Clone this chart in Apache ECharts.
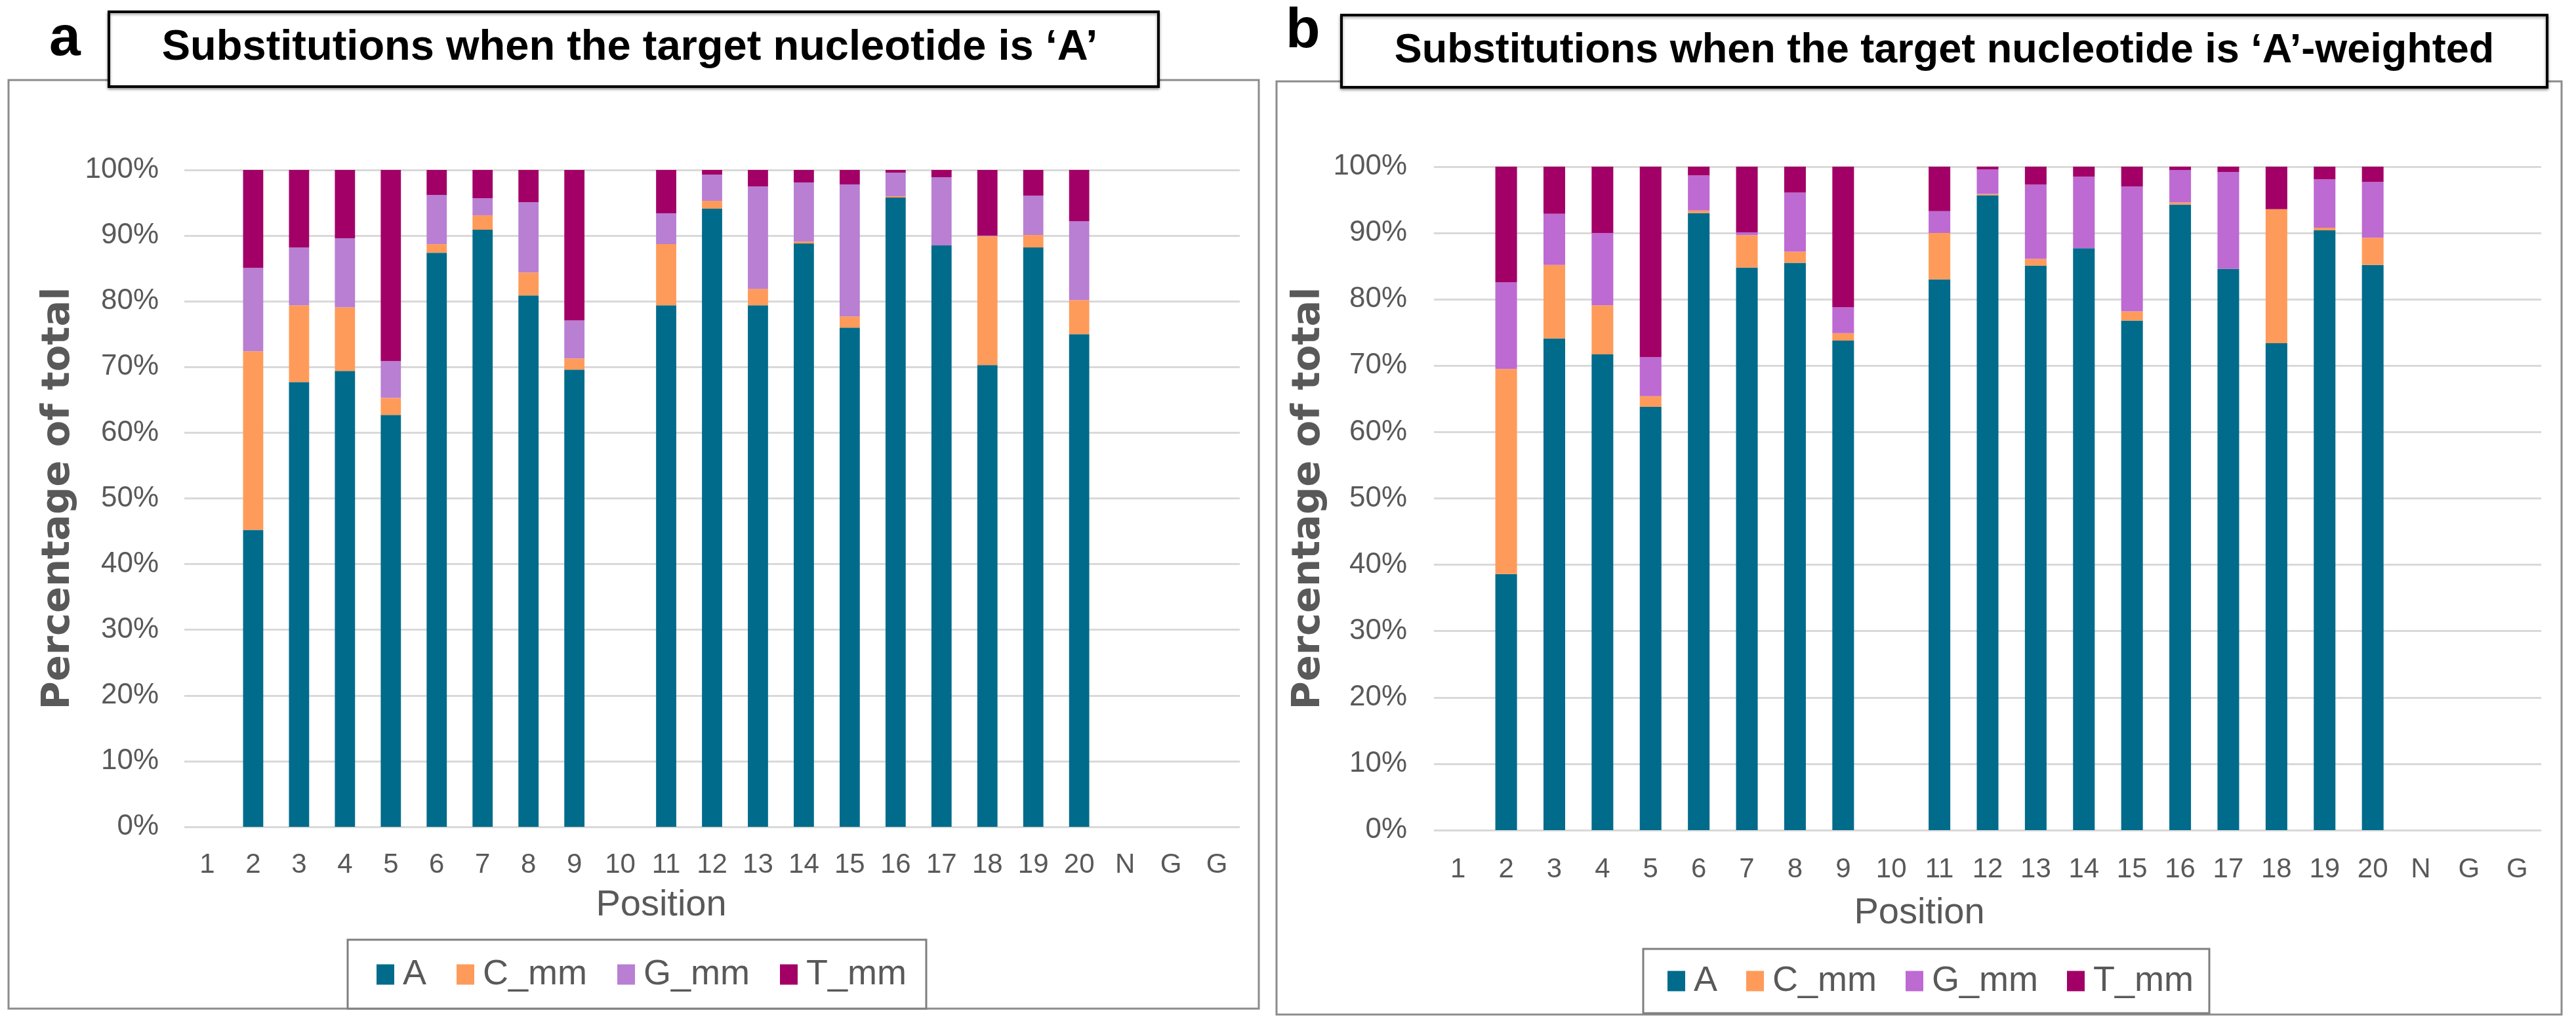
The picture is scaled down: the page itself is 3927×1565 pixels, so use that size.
<!DOCTYPE html>
<html>
<head>
<meta charset="utf-8">
<script src="https://cdn.jsdelivr.net/npm/echarts@6/dist/echarts.min.js"></script>
<style>
html,body{margin:0;padding:0;background:#fff;}
#chart{width:3927px;height:1565px;}
</style>
</head>
<body>
<div id="chart"></div>
<script>
// ---- data ----
const positionLabels = ['1','2','3','4','5','6','7','8','9','10','11','12','13','14','15','16','17','18','19','20','N','G','G'];
const seriesNames = ['A','C_mm','G_mm','T_mm'];
const yTicks = [0,10,20,30,40,50,60,70,80,90,100];

// Panel a: Substitutions when the target nucleotide is 'A' (percent)
const aA  = [null,45.2,67.7,69.4,62.7,87.4,90.9,80.9,69.6,null,79.4,94.1,79.4,88.8,76.0,95.8,88.5,70.3,88.2,75.0,null,null,null];
const aC  = [null,27.2,11.7, 9.7, 2.6, 1.3, 2.2, 3.5, 1.7,null, 9.3, 1.2, 2.5, 0.3, 1.7, 0.2, 0.0,19.6, 1.9, 5.2,null,null,null];
const aG  = [null,12.7, 8.8,10.5, 5.6, 7.5, 2.6,10.7, 5.8,null, 4.7, 4.0,15.6, 9.0,20.1, 3.6,10.4, 0.1, 6.0,12.0,null,null,null];
const aT  = [null,15.0,11.8,10.4,29.1, 3.8, 4.3, 4.9,22.9,null, 6.6, 0.7, 2.5, 1.9, 2.2, 0.4, 1.1,10.0, 3.9, 7.8,null,null,null];

// Panel b: 'A'-weighted (percent)
const bA  = [null,38.6,74.1,71.7,63.8,93.0,84.8,85.5,73.8,null,83.0,95.7,85.1,87.7,76.8,94.3,84.6,73.4,90.4,85.2,null,null,null];
const bC  = [null,30.9,11.1, 7.4, 1.6, 0.4, 4.9, 1.7, 1.1,null, 7.0, 0.2, 1.0, 0.0, 1.4, 0.3, 0.0,20.2, 0.4, 4.1,null,null,null];
const bG  = [null,13.1, 7.7,10.9, 5.9, 5.3, 0.4, 8.9, 3.9,null, 3.3, 3.7,11.2,10.8,18.8, 4.9,14.6, 0.0, 7.3, 8.4,null,null,null];
const bT  = [null,17.4, 7.1,10.0,28.7, 1.3, 9.9, 3.9,21.2,null, 6.7, 0.4, 2.7, 1.5, 3.0, 0.5, 0.8, 6.4, 1.9, 2.3,null,null,null];

const panelTitles = ['Substitutions when the target nucleotide is \u2018A\u2019', 'Substitutions when the target nucleotide is \u2018A\u2019-weighted'];
const panelLetters = ['a','b'];
const xTitle = 'Position';
const yTitle = 'Percentage of total';

// ---- styles ----
const colorsA = ['#006B8B','#FF9B5A','#B87FD3','#A20066'];
const colorsB = ['#006B8B','#FF9B5A','#BD6AD2','#A20066'];
const gray = '#595959';
const gridColor = '#D9D9D9';

const chart = echarts.init(document.getElementById('chart'), null, {renderer:'canvas'});

function xAxisOpt(gridIndex, margin){
  return {
    type:'category', gridIndex, data: positionLabels,
    axisLine:{show:false}, axisTick:{show:false},
    axisLabel:{color:gray, fontSize:42, fontFamily:'Liberation Sans, Arial, sans-serif', margin, interval:0}
  };
}
function yAxisOpt(gridIndex, margin, nameGap){
  return {
    type:'value', gridIndex, min:yTicks[0], max:yTicks[yTicks.length-1], interval:yTicks[1]-yTicks[0],
    axisLine:{show:false}, axisTick:{show:false},
    axisLabel:{color:gray, fontSize:44, fontFamily:'Liberation Sans, Arial, sans-serif', margin, formatter:'{value}%'},
    splitLine:{lineStyle:{color:gridColor, width:3}},
    name: yTitle, nameLocation:'middle', nameGap,
    nameTextStyle:{color:gray, fontSize:59, fontWeight:'bold', fontFamily:'DejaVu Sans, sans-serif'}
  };
}
function barSeries(name, data, idx, color, stack, barWidth){
  return {
    type:'bar', name, data, xAxisIndex:idx, yAxisIndex:idx, stack, barWidth,
    itemStyle:{color}, emphasis:{disabled:true}, animation:false
  };
}
const dataA = [aA,aC,aG,aT];
const dataB = [bA,bC,bG,bT];
const series = [];
seriesNames.forEach((n,i)=>series.push(barSeries(n, dataA[i], 0, colorsA[i], 'a', '44%')));
seriesNames.forEach((n,i)=>series.push(barSeries(n, dataB[i], 1, colorsB[i], 'b', '45%')));

function legendOpt(left, top, pad, gap, colors){
  return {
    left, top, orient:'horizontal', icon:'rect', itemWidth:27, itemHeight:31, itemGap:gap,
    padding: pad, borderColor:'#7F7F7F', borderWidth:3, backgroundColor:'#fff',
    data: seriesNames.map((n,i)=>({name:n, itemStyle:{color:colors[i]}})),
    textStyle:{color:gray, fontSize:54, fontFamily:'Liberation Sans, Arial, sans-serif', padding:[0,0,0,8], lineHeight:56},
    selectedMode:false
  };
}

const titleFont = 'Liberation Sans, Arial, sans-serif';
const option = {
  backgroundColor:'#fff',
  animation:false,
  title:[
    {text:panelLetters[0], left:75, top:17, padding:0, textStyle:{fontSize:86, fontWeight:'bold', color:'#000', fontFamily:titleFont}},
    {text:panelLetters[1], left:1960, top:5, padding:0, textStyle:{fontSize:86, fontWeight:'bold', color:'#000', fontFamily:titleFont}},
    {text:panelTitles[0], left:960, top:73, padding:0, textAlign:'center', textVerticalAlign:'middle', textStyle:{fontSize:65, fontWeight:'bold', color:'#000', fontFamily:titleFont}},
    {text:panelTitles[1], left:2964, top:78, padding:0, textAlign:'center', textVerticalAlign:'middle', textStyle:{fontSize:63, fontWeight:'bold', color:'#000', fontFamily:titleFont}},
    {text:xTitle, left:1008, top:1380, padding:0, textAlign:'center', textVerticalAlign:'middle', textStyle:{fontSize:56, fontWeight:'normal', color:gray, fontFamily:titleFont}},
    {text:xTitle, left:2926, top:1392, padding:0, textAlign:'center', textVerticalAlign:'middle', textStyle:{fontSize:56, fontWeight:'normal', color:gray, fontFamily:titleFont}}
  ],
  grid:[
    {left:281, right:3927-1890, top:259, bottom:1565-1260},
    {left:2186, right:3927-3874, top:254, bottom:1565-1265}
  ],
  xAxis:[xAxisOpt(0,37), xAxisOpt(1,39)],
  yAxis:[yAxisOpt(0,39,162), yAxisOpt(1,41,161)],
  legend:[
    legendOpt(530, 1432, [25,30,24,44], 46, colorsA),
    legendOpt(2505, 1446, [21,24,21,37], 44, colorsB)
  ],
  graphic:[
    {type:'rect', z:0, shape:{x:13, y:122, width:1906, height:1415}, style:{fill:'none', stroke:'#8C8C8C', lineWidth:3}},
    {type:'rect', z:0, shape:{x:1946, y:124, width:1959, height:1422}, style:{fill:'none', stroke:'#8C8C8C', lineWidth:3}},
    {type:'rect', z:1, shape:{x:166, y:18, width:1600, height:114}, style:{fill:'#fff', stroke:'#000', lineWidth:4, shadowBlur:4, shadowColor:'rgba(0,0,0,0.4)', shadowOffsetY:2}},
    {type:'rect', z:1, shape:{x:2045, y:23, width:1838, height:110}, style:{fill:'#fff', stroke:'#000', lineWidth:4, shadowBlur:4, shadowColor:'rgba(0,0,0,0.4)', shadowOffsetY:2}}
  ],
  series
};
chart.setOption(option);
</script>
</body>
</html>
